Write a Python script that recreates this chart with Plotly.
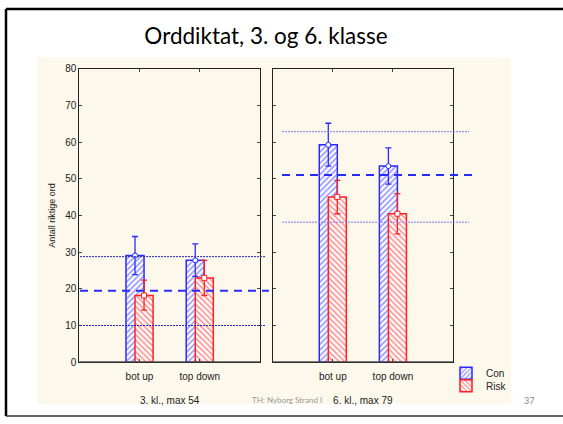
import plotly.graph_objects as go

W, H = 563, 424

groups = ["bot up", "top down"]
panels = ["3. kl., max 54", "6. kl., max 79"]

# 3. klasse
con3 = [29.1, 27.8]
con3_hi = [34.3, 32.3]
con3_lo = [23.9, 23.4]
risk3 = [18.2, 23.0]
risk3_hi = [22.4, 27.8]
risk3_lo = [14.2, 18.2]
ref3 = [28.8, 19.5, 10.0]  # +sd, mean, -sd

# 6. klasse
con6 = [59.3, 53.5]
con6_hi = [65.2, 58.5]
con6_lo = [53.5, 48.6]
risk6 = [45.1, 40.5]
risk6_hi = [49.6, 46.0]
risk6_lo = [40.5, 35.0]
ref6 = [62.9, 51.1, 38.2]

BLUE = "#2a2aff"
RED = "#ff2020"
pos = [1, 2]


def px(v):
    return v / W


def py(v):
    return 1 - v / H


fig = go.Figure()

panel_data = [
    ("x", "y", con3, con3_hi, con3_lo, risk3, risk3_hi, risk3_lo, True),
    ("x2", "y2", con6, con6_hi, con6_lo, risk6, risk6_hi, risk6_lo, False),
]
for xa, ya, con, chi, clo, risk, rhi, rlo, legend in panel_data:
    fig.add_bar(
        x=pos, y=con, xaxis=xa, yaxis=ya, name="Con", showlegend=legend,
        legend="legend",
        width=0.3, offset=-0.225,
        marker=dict(color="white", line=dict(color=BLUE, width=1.5),
                    pattern=dict(shape="/", fgcolor=BLUE, bgcolor="white",
                                 size=4, solidity=0.4)),
    )
    fig.add_bar(
        x=pos, y=risk, xaxis=xa, yaxis=ya, name="Risk", showlegend=legend,
        legend="legend2",
        width=0.3, offset=-0.075,
        marker=dict(color="white", line=dict(color=RED, width=1.5),
                    pattern=dict(shape="\\", fgcolor=RED, bgcolor="white",
                                 size=4, solidity=0.4)),
    )
    fig.add_scatter(
        x=[p - 0.075 for p in pos], y=con, xaxis=xa, yaxis=ya, mode="markers",
        showlegend=False, cliponaxis=False,
        marker=dict(symbol="circle", size=5, color="white",
                    line=dict(color=BLUE, width=1)),
        error_y=dict(type="data", symmetric=False,
                     array=[h - m for h, m in zip(chi, con)],
                     arrayminus=[m - l for m, l in zip(con, clo)],
                     color=BLUE, thickness=1.3, width=3),
    )
    fig.add_scatter(
        x=[p + 0.075 for p in pos], y=risk, xaxis=xa, yaxis=ya, mode="markers",
        showlegend=False, cliponaxis=False,
        marker=dict(symbol="square", size=5, color="white",
                    line=dict(color=RED, width=1)),
        error_y=dict(type="data", symmetric=False,
                     array=[h - m for h, m in zip(rhi, risk)],
                     arrayminus=[m - l for m, l in zip(risk, rlo)],
                     color=RED, thickness=1.3, width=3),
    )

# beige chart background and slide frame
fig.add_shape(type="rect", xref="paper", yref="paper", layer="below",
              x0=px(37), x1=px(511), y0=py(410), y1=py(54),
              fillcolor="#fdf8ec", line_width=0)
fig.add_shape(type="line", xref="paper", yref="paper",
              x0=px(6), x1=px(6), y0=py(4), y1=py(422),
              line=dict(color="black", width=2.5))
fig.add_shape(type="line", xref="paper", yref="paper",
              x0=px(6), x1=1, y0=py(4), y1=py(4),
              line=dict(color="black", width=2.5))
fig.add_shape(type="line", xref="paper", yref="paper",
              x0=px(6), x1=1, y0=py(422), y1=py(422),
              line=dict(color="#333", width=1.5))

# reference lines (mean and +/- sd)
ref_spans = [("y", ref3, 80, 265, 269, "#2424c8"), ("y2", ref6, 282, 469, 473, "#7c7cf0")]
for ya, ref, x0, x1d, x1m, dotc in ref_spans:
    for i, v in enumerate(ref):
        if i == 1:
            fig.add_shape(type="line", xref="paper", yref=ya, x0=px(x0), x1=px(x1m),
                          y0=v, y1=v, line=dict(color=BLUE, width=2, dash="8px,6px"))
        else:
            fig.add_shape(type="line", xref="paper", yref=ya, x0=px(x0), x1=px(x1d),
                          y0=v, y1=v, line=dict(color=dotc, width=1, dash="2px,1px"))

# thicker gray base line
for xa, ya in [("x", "y"), ("x2", "y2")]:
    fig.add_shape(type="line", xref=xa + " domain", yref=ya, x0=0, x1=1, y0=0, y1=0,
                  line=dict(color="#555", width=2))

axis_common = dict(
    showline=True, linecolor="#222", linewidth=1, mirror="ticks",
    ticks="inside", ticklen=3, tickcolor="#444", showgrid=False, zeroline=False,
    tickfont=dict(family="Liberation Sans, Arial", size=10, color="#222"),
)
xcommon = dict(axis_common, range=[0, 3], tickvals=pos, ticktext=groups,
               ticklabelstandoff=5,
               title_font=dict(family="Liberation Sans, Arial", size=10, color="#222"),
               title_standoff=15)
ycommon = dict(axis_common, range=[0, 80], dtick=10)

legend_common = dict(xanchor="left", yanchor="middle", bgcolor="rgba(0,0,0,0)",
                     itemwidth=30, borderwidth=0,
                     font=dict(family="Liberation Sans, Arial", size=10, color="#222"))

fig.update_layout(
    width=W, height=H,
    margin=dict(l=0, r=0, t=0, b=0),
    paper_bgcolor="white", plot_bgcolor="white",
    barmode="overlay",
    title=dict(text="Orddiktat, 3. og 6. klasse", x=px(266), xanchor="center",
               y=py(36), yanchor="middle",
               font=dict(family="Lato", size=22.5, color="black")),
    xaxis=dict(xcommon, domain=[px(79.3), px(260)], title_text=panels[0]),
    xaxis2=dict(xcommon, domain=[px(272.7), px(453)], title_text=panels[1], anchor="y2"),
    yaxis=dict(ycommon, domain=[py(366.7), py(65.7)],
               title=dict(text="Antall riktige ord", standoff=8,
                          font=dict(family="Liberation Sans, Arial", size=9, color="#222"))),
    yaxis2=dict(ycommon, domain=[py(366.7), py(65.7)], anchor="x2", matches="y",
                showticklabels=False),
    legend=dict(legend_common, x=px(446), y=py(378)),
    legend2=dict(legend_common, x=px(446), y=py(391)),
    annotations=[
        dict(text="TH: Nyborg Strand I", xref="paper", yref="paper", x=px(250), y=py(406),
             xanchor="left", yanchor="middle", showarrow=False,
             font=dict(family="Lato", size=8, color="#999")),
        dict(text="37", xref="paper", yref="paper", x=px(529), y=py(406),
             xanchor="center", yanchor="middle", showarrow=False,
             font=dict(family="Lato", size=9, color="#888")),
    ],
)

fig.write_html("out.html", config={"displayModeBar": False},
               post_script="document.body.style.margin='0px';")
